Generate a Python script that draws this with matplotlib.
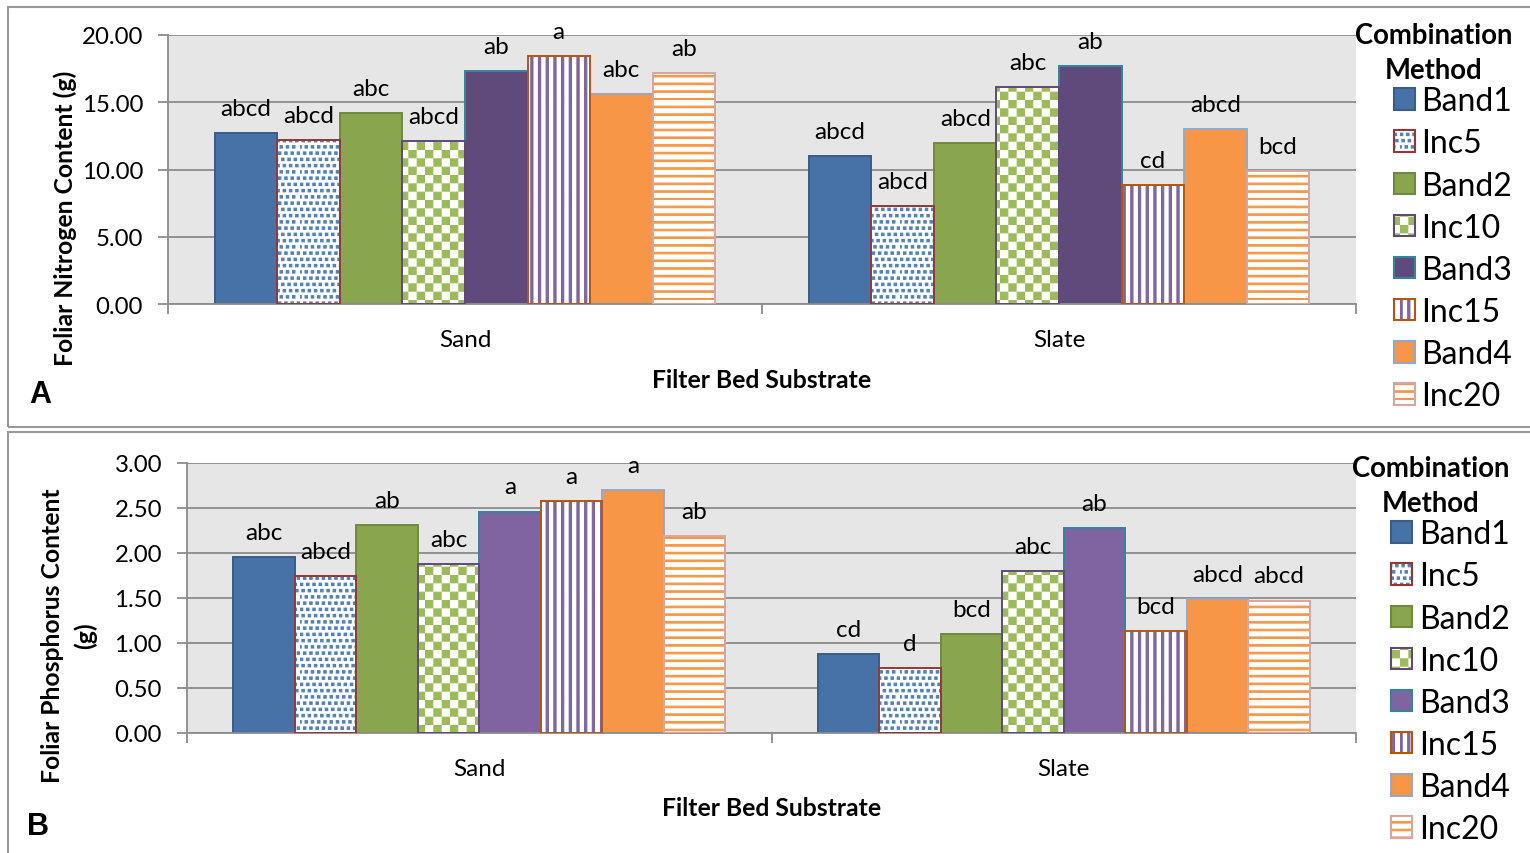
import warnings
import numpy as np
import matplotlib
matplotlib.use('Agg')
import matplotlib.pyplot as plt
import matplotlib.hatch as mhatch
import matplotlib.patches as mpatches
from matplotlib.path import Path

warnings.filterwarnings('ignore')

# data
substrates = ['Sand', 'Slate']
methods = ['Band1', 'Inc5', 'Band2', 'Inc10', 'Band3', 'Inc15', 'Band4', 'Inc20']

nitrogen_sand = [12.69, 12.16, 14.22, 12.10, 17.35, 18.46, 15.61, 17.17]
nitrogen_slate = [11.00, 7.29, 11.99, 16.16, 17.69, 8.85, 13.04, 9.86]
nitrogen_sand_letters = ['abcd', 'abcd', 'abc', 'abcd', 'ab', 'a', 'abc', 'ab']
nitrogen_slate_letters = ['abcd', 'abcd', 'abcd', 'abc', 'ab', 'cd', 'abcd', 'bcd']

phosphorus_sand = [1.95, 1.74, 2.31, 1.88, 2.46, 2.58, 2.70, 2.19]
phosphorus_slate = [0.875, 0.72, 1.10, 1.80, 2.28, 1.135, 1.49, 1.47]
phosphorus_sand_letters = ['abc', 'abcd', 'ab', 'abc', 'a', 'a', 'a', 'ab']
phosphorus_slate_letters = ['cd', 'd', 'bcd', 'abc', 'ab', 'bcd', 'abcd', 'abcd']

# styles (Excel 2007 look)
fills = ['#4672A8', 'white', '#89A54E', 'white', None, 'white', '#F79646', 'white']
pattern_colors = [None, '#4F81BD', None, '#9BBB59', None, '#8064A2', None, '#F79646']
hatches = [None, 'd', None, 'c', None, 'v', None, 'h']
edge_colors = ['#385D8A', '#953735', '#71893F', '#5F497A', '#31859C', '#B65708', '#95A8C8', '#D7A6A0']

W, H = 1530, 854
GRID = '#8C8C8C'

plt.rcParams['font.family'] = ['Lato', 'DejaVu Sans']
plt.rcParams['hatch.linewidth'] = 0.8
ST = 0.011  # hatch stroke width in hatch units (1 unit = 100 px)


# Excel-like fill patterns, built as small filled rectangles per 1x1 hatch tile
class BlockHatch(mhatch.HatchPatternBase):
    char = '#'

    def __init__(self, hatch, density):
        self.rects = self.cells() if self.char in hatch else []
        self.num_vertices = 5 * len(self.rects)

    def cells(self):
        return []

    def set_vertices_and_codes(self, vertices, codes):
        for k, (x0, y0, x1, y1) in enumerate(self.rects):
            vertices[5 * k:5 * k + 5] = [(x0, y0), (x1, y0), (x1, y1), (x0, y1), (x0, y0)]
            codes[5 * k:5 * k + 5] = [Path.MOVETO, Path.LINETO, Path.LINETO, Path.LINETO, Path.CLOSEPOLY]


class Checker(BlockHatch):
    char = 'c'

    def cells(self):
        n, g = 12, ST / 2
        s = 1.0 / n
        return [(i * s + g, j * s + g, (i + 1) * s - g, (j + 1) * s - g)
                for i in range(n) for j in range(n) if (i + j) % 2 == 0]


class Dots(BlockHatch):
    char = 'd'

    def cells(self):
        n, d = 16, 0.012
        s = 1.0 / n
        shift = [0, 0.5, 0.25, 0.75]
        out = []
        for j in range(n):
            for i in range(n):
                cx = (i + shift[j % 4]) * s
                cy = (j + 0.5) * s
                out.append((cx - d, cy - d, cx + d, cy + d))
        return out


class VStripes(BlockHatch):
    char = 'v'

    def cells(self):
        n, w = 13, 0.033 - ST
        return [(i / n, 0, i / n + w, 1) for i in range(n)]


class HStripes(BlockHatch):
    char = 'h'

    def cells(self):
        n, w = 13, 0.026 - ST
        return [(0, i / n, 1, i / n + w) for i in range(n)]


mhatch._hatch_types.extend([Checker, Dots, VStripes, HStripes])


def draw_panel(ax, sand, slate, sand_letters, slate_letters, ymax, step, band3):
    x = np.arange(len(substrates))
    w = 1 / 9.5
    for i, m in enumerate(methods):
        pos = x + (i - 3.5) * w
        vals = [sand[i], slate[i]]
        if hatches[i]:
            ax.bar(pos, vals, w, color='white', edgecolor=pattern_colors[i],
                   hatch=hatches[i], linewidth=0, zorder=2)
            ax.bar(pos, vals, w, fill=False, edgecolor=edge_colors[i], linewidth=1.4, zorder=3)
        else:
            c = band3 if m == 'Band3' else fills[i]
            ax.bar(pos, vals, w, color=c, edgecolor=edge_colors[i], linewidth=1.4, zorder=2)
        for px, v, lab in zip(pos, vals, [sand_letters[i], slate_letters[i]]):
            ax.annotate(lab, (px, v), xytext=(0, 13), textcoords='offset points',
                        ha='center', va='baseline', fontsize=17.5, zorder=4)

    ax.set_facecolor('#E6E6E6')
    ax.set_ylim(0, ymax)
    ax.set_xlim(-0.5, 1.5)
    ticks = np.arange(0, ymax + step / 2, step)
    ax.set_yticks(ticks)
    ax.set_yticklabels(['%.2f' % t for t in ticks])
    ax.yaxis.grid(True, color=GRID, linewidth=1.3)
    ax.set_axisbelow(True)
    for s in ['top', 'right']:
        ax.spines[s].set_visible(False)
    for s in ['left', 'bottom']:
        ax.spines[s].set_color(GRID)
        ax.spines[s].set_linewidth(1.3)
    ax.tick_params(axis='y', length=7, width=1.3, color=GRID, pad=11, labelsize=17.3)
    ax.set_xticks([-0.5, 0.5, 1.5])
    ax.set_xticklabels(['', '', ''])
    ax.set_xticks(x, minor=True)
    ax.set_xticklabels(substrates, minor=True)
    ax.tick_params(axis='x', which='major', length=7, width=1.3, color=GRID)
    ax.tick_params(axis='x', which='minor', length=0, pad=18, labelsize=17.5)
    ax.set_xlabel('Filter Bed Substrate', fontsize=17.8, fontweight='bold', va='center')


fig = plt.figure(figsize=(W / 100, H / 100), dpi=100)

# panel frames
fig.add_artist(mpatches.Rectangle((8 / W, 1 - 428 / H), 1.1, 420 / H, transform=fig.transFigure,
                                  fill=False, edgecolor='#9A9A9A', linewidth=1.5))
fig.add_artist(mpatches.Rectangle((8 / W, -0.1), 1.1, 0.1 + 1 - 433 / H, transform=fig.transFigure,
                                  fill=False, edgecolor='#9A9A9A', linewidth=1.5))

axA = fig.add_axes([168 / W, 1 - 305 / H, (1356 - 168) / W, 269 / H])
draw_panel(axA, nitrogen_sand, nitrogen_slate, nitrogen_sand_letters, nitrogen_slate_letters,
           20, 5, '#604A7B')
axA.set_ylabel('Foliar Nitrogen Content (g)', fontsize=17.8, fontweight='bold', va='center')
axA.yaxis.set_label_coords((65 - 168) / 1188, (305 - 218) / 269)
axA.xaxis.set_label_coords(0.5, (305 - 381) / 269)

axB = fig.add_axes([187 / W, 1 - 733.7 / H, (1356 - 187) / W, 269.7 / H])
draw_panel(axB, phosphorus_sand, phosphorus_slate, phosphorus_sand_letters, phosphorus_slate_letters,
           3, 0.5, '#8064A2')
axB.set_ylabel('Foliar Phosphorus Content\n(g)', fontsize=17.8, fontweight='bold', va='center',
               linespacing=1.45)
axB.yaxis.set_label_coords((69 - 187) / 1169, (733.7 - 636) / 269.7)
axB.xaxis.set_label_coords(0.5, (733.7 - 809) / 269.7)

fig.text(40 / W, 1 - 395 / H, 'A', fontsize=22, fontweight='bold', family='Liberation Sans',
         ha='center', va='center')
fig.text(38 / W, 1 - 827 / H, 'B', fontsize=22, fontweight='bold', family='Liberation Sans',
         ha='center', va='center')


def legend_for(band3, x0, y0):
    handles = []
    for i, m in enumerate(methods):
        if hatches[i]:
            h = (mpatches.Patch(facecolor='white', edgecolor=pattern_colors[i], hatch=hatches[i], linewidth=0),
                 mpatches.Patch(fill=False, edgecolor=edge_colors[i], linewidth=1.5))
        else:
            c = band3 if m == 'Band3' else fills[i]
            h = mpatches.Patch(facecolor=c, edgecolor=edge_colors[i], linewidth=1.5)
        handles.append(h)
    leg = fig.legend(handles, methods, loc='upper left', bbox_to_anchor=(x0 / W, 1 - y0 / H),
                     bbox_transform=fig.transFigure, frameon=False, fontsize=23,
                     title='Combination\nMethod',
                     title_fontproperties={'weight': 'bold', 'size': 19.8},
                     handlelength=0.65, handleheight=0.65, handletextpad=0.22,
                     labelspacing=0.38, borderpad=0, borderaxespad=0)
    leg.get_title().set_linespacing(1.45)
    leg.get_title().set_multialignment('center')
    # tighter gap under the title, entries flush right under it
    leg._legend_box.sep = 2
    leg._legend_box.align = 'right'
    return leg


legend_for('#604A7B', 1355, 23)
legend_for('#8064A2', 1352, 456)

fig.savefig('out.png', dpi=100)
